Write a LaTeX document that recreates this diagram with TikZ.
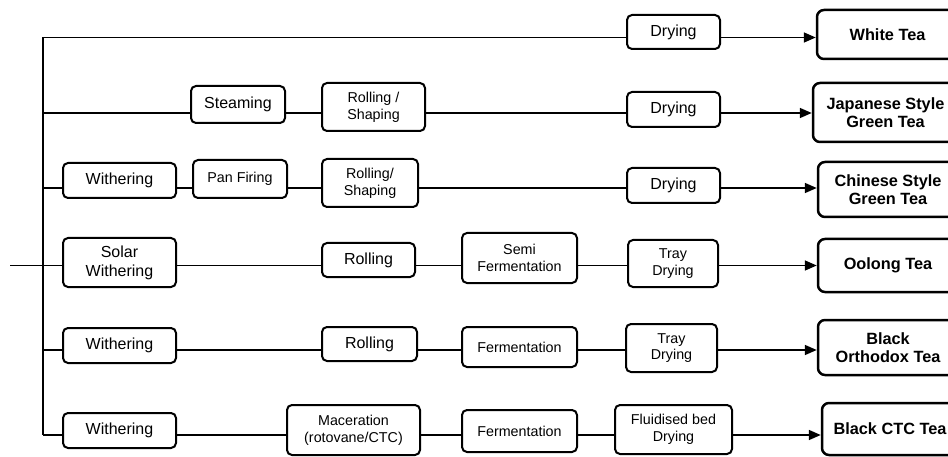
\documentclass[tikz,border=0pt]{standalone}
\usepackage{fontspec}
\setmainfont{Liberation Sans}
\usetikzlibrary{arrows.meta}
\tikzset{
  box/.style={draw, line width=2pt, rounded corners=5pt, align=center, inner sep=1pt, fill=white},
  big/.style={box, font=\fontsize{16}{19}\selectfont},
  small/.style={box, font=\fontsize{14.3}{16.7}\selectfont},
  prod/.style={box, line width=2.5pt, rounded corners=7pt, font=\bfseries\fontsize{16.3}{18.3}\selectfont},
  conn/.style={line width=1.7pt},
  arr/.style={line width=1.7pt, -{Triangle[length=12pt,width=10pt]}}
}
\begin{document}
\begin{tikzpicture}[x=1pt,y=-1pt]
\useasboundingbox (0,0) rectangle (948,457);
\clip (0,0) rectangle (948,457);
% rows
\coordinate (r1) at (43,37.5);
\coordinate (r2) at (43,113);
\coordinate (r3) at (43,188);
\coordinate (r4) at (43,265.5);
\coordinate (r5) at (43,350);
\coordinate (r6) at (43,435);
\coordinate (in) at (10,265.5);
% row 1
\node[big, minimum width=93pt, minimum height=34pt] (dry1) at (673.5,32) {Drying};
\node[prod, minimum width=141pt, minimum height=49pt] (white) at (887.5,34.5) {White Tea};
% row 2
\node[big, minimum width=94pt, minimum height=37pt] (steam) at (238,104.5) {Steaming};
\node[small, minimum width=103pt, minimum height=48pt] (rs2) at (373.5,107) {Rolling /\\Shaping};
\node[big, minimum width=93pt, minimum height=35pt] (dry2) at (673.5,109.5) {Drying};
\node[prod, minimum width=145pt, minimum height=59pt] (jap) at (885.5,112.5) {Japanese Style\\Green Tea};
% row 3
\node[big, minimum width=113pt, minimum height=35pt] (with3) at (119.5,180.5) {Withering};
\node[small, minimum width=94pt, minimum height=38pt] (pan) at (240,179) {Pan Firing};
\node[small, minimum width=96pt, minimum height=48pt] (rs3) at (370,183) {Rolling/\\Shaping};
\node[big, minimum width=93pt, minimum height=35pt] (dry3) at (673.5,185.5) {Drying};
\node[prod, minimum width=140pt, minimum height=55pt] (chi) at (888,189.5) {Chinese Style\\Green Tea};
% row 4
\node[big, minimum width=113pt, minimum height=49pt] (solar) at (119.5,262.5) {Solar\\Withering};
\node[big, minimum width=93pt, minimum height=34pt] (roll4) at (368.5,260) {Rolling};
\node[small, minimum width=115pt, minimum height=50pt] (semi) at (519.5,258) {Semi\\Fermentation};
\node[small, minimum width=90pt, minimum height=47pt] (tray4) at (673,263.5) {Tray\\Drying};
\node[prod, minimum width=140pt, minimum height=53pt] (oolong) at (888,265.5) {Oolong Tea};
% row 5
\node[big, minimum width=113pt, minimum height=35pt] (with5) at (119.5,345.5) {Withering};
\node[big, minimum width=95pt, minimum height=34pt] (roll5) at (369.5,344) {Rolling};
\node[small, minimum width=115pt, minimum height=40pt] (ferm5) at (519.5,347) {Fermentation};
\node[small, minimum width=91pt, minimum height=48pt] (tray5) at (671.5,348) {Tray\\Drying};
\node[prod, minimum width=140pt, minimum height=55pt] (orth) at (888,347.5) {Black\\Orthodox Tea};
% row 6
\node[big, minimum width=113pt, minimum height=35pt] (with6) at (119.5,430.5) {Withering};
\node[small, minimum width=133pt, minimum height=50pt] (mac) at (353.5,430) {Maceration\\(rotovane/CTC)};
\node[small, minimum width=115pt, minimum height=42pt] (ferm6) at (519.5,431) {Fermentation};
\node[small, minimum width=117pt, minimum height=49pt] (fluid) at (673.5,429.5) {Fluidised bed\\Drying};
\node[prod, minimum width=136pt, minimum height=52pt] (ctc) at (890,429) {Black CTC Tea};
% trunk and input
\draw[conn] (r1) -- (r6);
\draw[conn] (in) -- (r4);
% row 1 connectors
\draw[conn] (r1) -- (dry1.west |- r1);
\draw[arr] (dry1.east |- r1) -- (white.west |- r1);
% row 2
\draw[conn] (r2) -- (steam.west |- r2);
\draw[conn] (steam.east |- r2) -- (rs2.west |- r2);
\draw[conn] (rs2.east |- r2) -- (dry2.west |- r2);
\draw[arr] (dry2.east |- r2) -- (jap.west |- r2);
% row 3
\draw[conn] (r3) -- (with3.west |- r3);
\draw[conn] (with3.east |- r3) -- (pan.west |- r3);
\draw[conn] (pan.east |- r3) -- (rs3.west |- r3);
\draw[conn] (rs3.east |- r3) -- (dry3.west |- r3);
\draw[arr] (dry3.east |- r3) -- (chi.west |- r3);
% row 4
\draw[conn] (r4) -- (solar.west |- r4);
\draw[conn] (solar.east |- r4) -- (roll4.west |- r4);
\draw[conn] (roll4.east |- r4) -- (semi.west |- r4);
\draw[conn] (semi.east |- r4) -- (tray4.west |- r4);
\draw[arr] (tray4.east |- r4) -- (oolong.west |- r4);
% row 5
\draw[conn] (r5) -- (with5.west |- r5);
\draw[conn] (with5.east |- r5) -- (roll5.west |- r5);
\draw[conn] (roll5.east |- r5) -- (ferm5.west |- r5);
\draw[conn] (ferm5.east |- r5) -- (tray5.west |- r5);
\draw[arr] (tray5.east |- r5) -- (orth.west |- r5);
% row 6
\draw[conn] (r6) -- (with6.west |- r6);
\draw[conn] (with6.east |- r6) -- (mac.west |- r6);
\draw[conn] (mac.east |- r6) -- (ferm6.west |- r6);
\draw[conn] (ferm6.east |- r6) -- (fluid.west |- r6);
\draw[arr] (fluid.east |- r6) -- (ctc.west |- r6);
\end{tikzpicture}
\end{document}
